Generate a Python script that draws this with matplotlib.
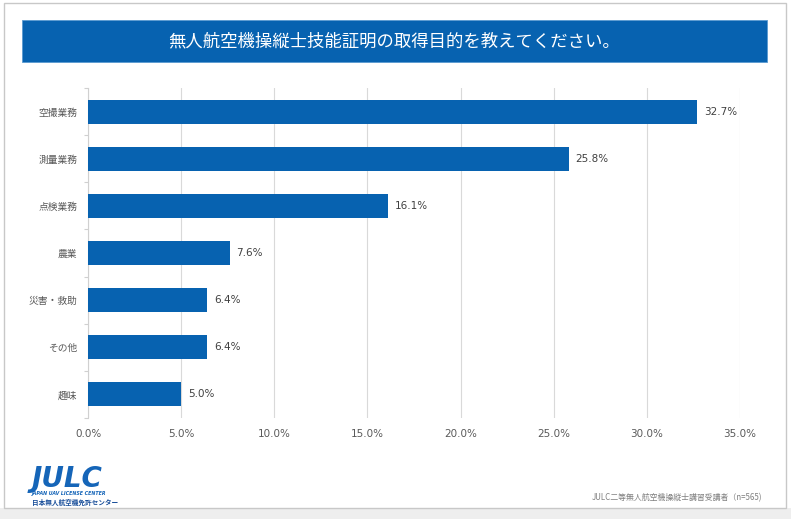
import matplotlib
matplotlib.use("Agg")
import matplotlib.pyplot as plt
from matplotlib.patches import Rectangle

plt.rcParams['font.family'] = ['Noto Sans CJK JP', 'DejaVu Sans']

title = "無人航空機操縦士技能証明の取得目的を教えてください。"
categories = ["空撮業務", "測量業務", "点検業務", "農業", "災害・救助", "その他", "趣味"]
values = [32.7, 25.8, 16.1, 7.6, 6.4, 6.4, 5.0]
xticks = [0, 5, 10, 15, 20, 25, 30, 35]
footnote = "JULC二等無人航空機操縦士講習受講者（n=565)"

W, H = 791, 519
BLUE = '#0762B0'
fig = plt.figure(figsize=(W / 100, H / 100), dpi=100)

def fx(px):
    return px / W

def fy(py):
    return 1 - py / H

# outer frame & bottom shadow
fig.patches.append(Rectangle((0, 0), 1, fy(508), transform=fig.transFigure,
                             facecolor='#EEEEEE', edgecolor='none', zorder=-2))
fig.patches.append(Rectangle((fx(4), fy(508)), fx(786) - fx(4), fy(3) - fy(508),
                             transform=fig.transFigure, facecolor='white',
                             edgecolor='#C8C8C8', linewidth=1, zorder=-1))

# title banner
fig.patches.append(Rectangle((fx(22), fy(62)), fx(767) - fx(22), fy(20) - fy(62),
                             transform=fig.transFigure, facecolor=BLUE,
                             edgecolor='#5A9AD0', linewidth=0.6, zorder=1))
fig.text(fx(394), fy(41), title, color='white', fontsize=12.5,
         ha='center', va='center', zorder=2)

ax = fig.add_axes([fx(88), fy(418), fx(740) - fx(88), fy(88) - fy(418)])
ax.set_zorder(3)
ax.patch.set_alpha(0)
y = list(range(len(categories)))
ax.barh(y, values, height=0.51, color=BLUE, zorder=3)
ax.set_ylim(len(categories) - 0.5, -0.5)
ax.set_xlim(0, 35)
ax.set_xticks(xticks)
ax.set_xticklabels([f"{v:.1f}%" for v in xticks], family=['DejaVu Sans'],
                   fontsize=7.5, color='#595959')
ax.set_yticks(y)
ax.set_yticklabels(categories, fontsize=7, color='#595959')
ax.tick_params(axis='x', length=0, pad=8)
ax.tick_params(axis='y', length=0, pad=7.5)
# minor ticks at category boundaries
ax.set_yticks([i - 0.5 for i in range(len(categories) + 1)], minor=True)
ax.tick_params(axis='y', which='minor', length=3, color='#D0D0D0', width=0.8)
ax.grid(axis='x', color='#D9D9D9', linewidth=0.8, zorder=0)
for s in ['top', 'right', 'bottom']:
    ax.spines[s].set_visible(False)
ax.spines['left'].set_color('#D0D0D0')
ax.spines['left'].set_linewidth(0.8)

for yi, v in zip(y, values):
    ax.annotate(f"{v:.1f}%", (v, yi), xytext=(5, 0), textcoords='offset points',
                va='center', ha='left', fontsize=7.5, color='#404040',
                family=['DejaVu Sans'])

# logo
fig.text(fx(32), fy(479), "JULC", color='#1565B8', fontsize=20, fontweight='bold',
         style='italic', family=['DejaVu Sans'], ha='left', va='center')
fig.text(fx(32), fy(494), "JAPAN UAV LICENSE CENTER", color='#1565B8', fontsize=3.4,
         fontweight='bold', style='italic', family=['DejaVu Sans'], ha='left', va='center')
fig.text(fx(32), fy(502), "日本無人航空機免許センター", color='#1A4F9A', fontsize=4.8,
         fontweight='bold', ha='left', va='center')

fig.text(fx(762), fy(498), footnote, color='#7F7F7F', fontsize=5.7,
         ha='right', va='center')

fig.savefig("out.png", dpi=100)
